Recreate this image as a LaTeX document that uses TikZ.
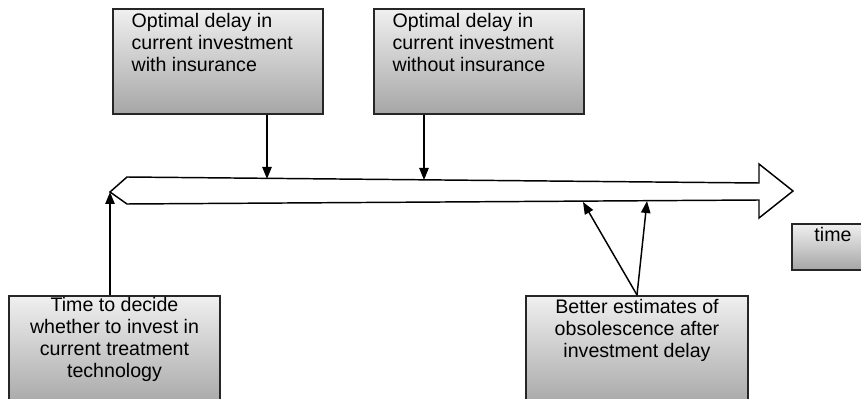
\documentclass[tikz,border=0pt]{standalone}
\usepackage{fontspec}
\setmainfont{Liberation Sans}
\usetikzlibrary{arrows.meta}

\newdimen\px \px=0.75pt
% box text: width, height, top gap, content
\newcommand{\cardtext}[4]{\parbox[c][#2\px][t]{#1\px}{\vspace*{#3\px}#4}}

\tikzset{
  greybox/.style={draw=black!85, line width=1.5pt, top color=black!6, bottom color=black!35,
    inner sep=0pt, anchor=north west, font=\fontsize{14.7}{16.5}\selectfont},
  conn/.style={line width=1.1pt, -{Triangle[length=9pt,width=7pt]}},
}

\begin{document}
\begin{tikzpicture}[x=0.75pt,y=0.75pt,yscale=-1,xscale=1]
\useasboundingbox (0,0) rectangle (861,399);

%Timeline arrow
\draw [line width=1.1pt, fill=white] (127,177) -- (759,183) -- (759,164) -- (793,191) -- (759,218) -- (759,200) -- (127,204) -- (110,192) -- cycle ;
\coordinate (start) at (110,192);
\coordinate (delayins) at (267,179);
\coordinate (delaynoins) at (424,180);
\coordinate (est1) at (583,202);
\coordinate (est2) at (647,201);

%Boxes
\node [greybox] (withins) at (112,8) {\cardtext{210}{105}{4}{\raggedright\leftskip=14pt Optimal delay in\\ current investment\\ with insurance}};
\node [greybox] (withoutins) at (373,8) {\cardtext{210}{105}{4}{\raggedright\leftskip=14pt Optimal delay in\\ current investment\\ without insurance}};
\node [greybox] (decide) at (8,295) {\cardtext{211}{112}{1}{\centering Time to decide\\ whether to invest in\\ current treatment\\ technology}};
\node [greybox] (estim) at (525,295) {\cardtext{222}{112}{3}{\centering Better estimates of\\ obsolescence after\\ investment delay}};
\node [greybox] (time) at (791,223) {\cardtext{82}{46}{3}{\centering time}};

%Connectors
\draw [conn] (withins.south -| delayins) -- (delayins);
\draw [conn] (withoutins.south -| delaynoins) -- (delaynoins);
\draw [conn] (decide.north -| start) -- (start);
\draw [conn] (estim.north) -- (est1);
\draw [conn] (estim.north) -- (est2);

\end{tikzpicture}
\end{document}
